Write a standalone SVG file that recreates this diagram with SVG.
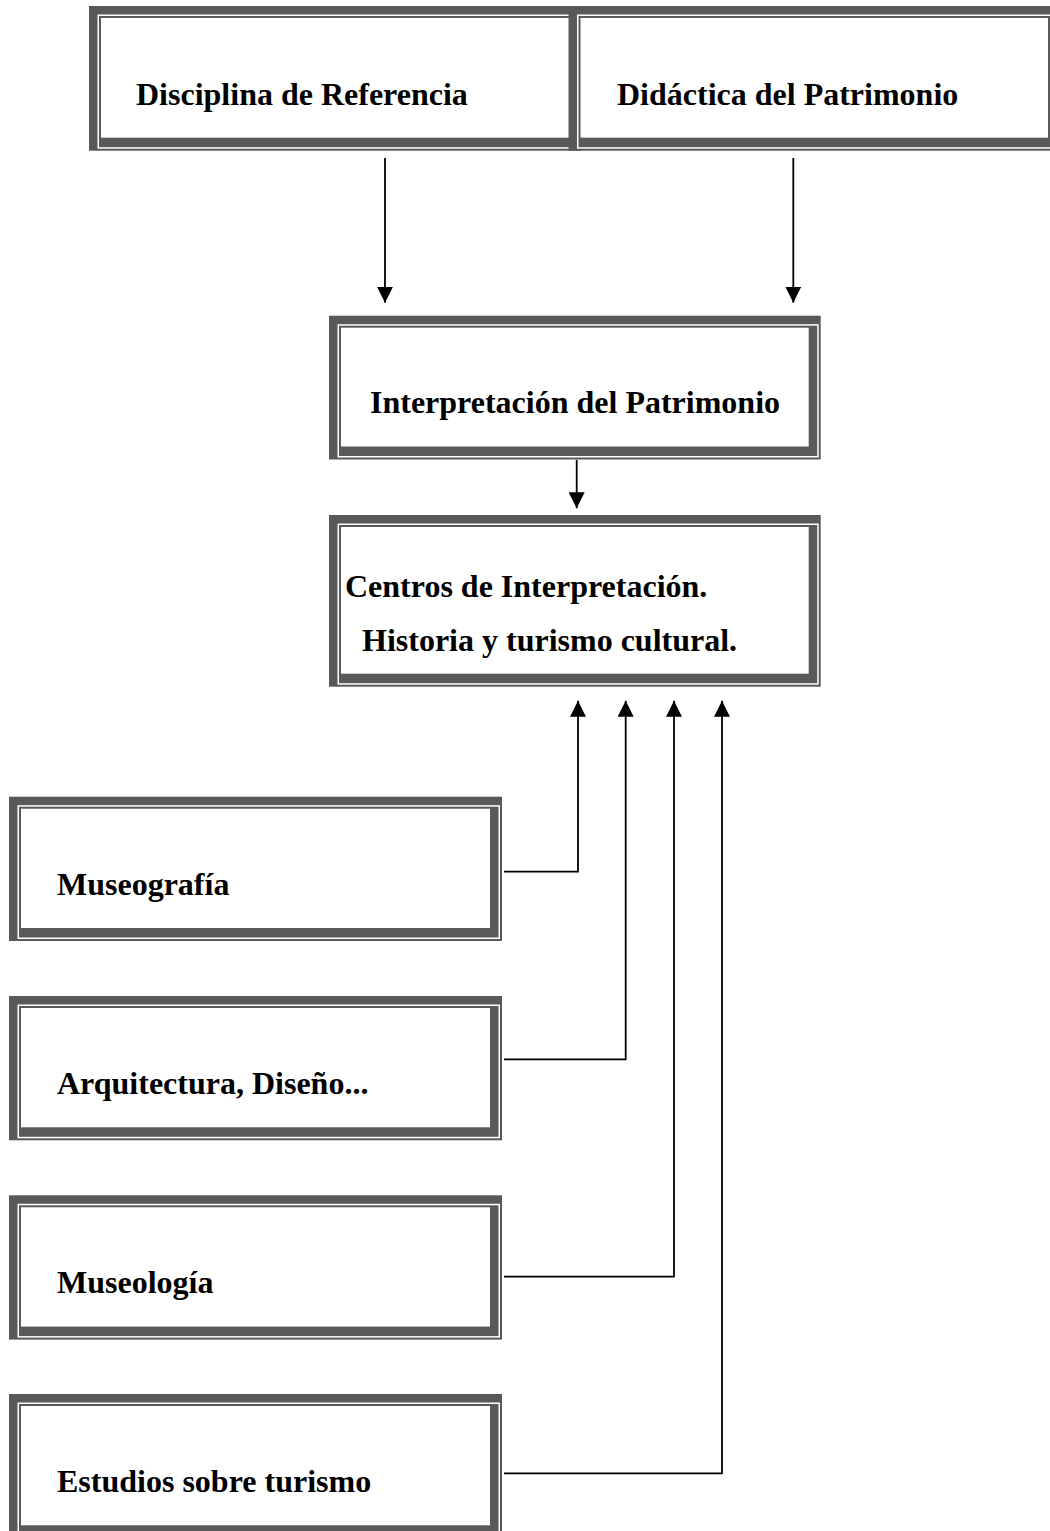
<svg xmlns="http://www.w3.org/2000/svg" width="1050" height="1531" viewBox="0 0 1050 1531">
<style>
.g{fill:#595959}
.w{fill:#ffffff}
.t{font-family:"Liberation Serif","Times New Roman",serif;font-weight:bold;font-size:32px;fill:#000}
.c{fill:none;stroke:#000;stroke-width:1.8}
</style>
<defs>
<marker id="ah" markerUnits="userSpaceOnUse" markerWidth="16" markerHeight="16" viewBox="0 0 16 16" refX="16" refY="8" orient="auto">
<path d="M0,0 L16,8 L0,16 z" fill="#000"/>
</marker>
</defs>
<rect x="0" y="0" width="1050" height="1531" fill="#fff"/>

<g id="n1">
<rect class="g" x="89" y="6" width="492" height="144.7"/>
<rect class="w" x="97.5" y="14.5" width="481.5" height="134.2"/>
<rect class="g" x="99" y="16" width="478.5" height="131.2"/>
<rect class="w" x="101" y="18" width="468" height="119.7"/>
<text class="t" x="136" y="105">Disciplina de Referencia</text>
</g>

<g id="n2">
<rect class="g" x="568.5" y="6" width="491.5" height="144.7"/>
<rect class="w" x="577" y="14.5" width="481" height="134.2"/>
<rect class="g" x="578.5" y="16" width="478" height="131.2"/>
<rect class="w" x="580.5" y="18" width="467.5" height="119.7"/>
<text class="t" x="617" y="105">Didáctica del Patrimonio</text>
</g>

<g id="n3">
<rect class="g" x="329" y="315.7" width="491.7" height="143.8"/>
<rect class="w" x="337.5" y="324.2" width="481.2" height="133.3"/>
<rect class="g" x="339" y="325.7" width="478.2" height="130.3"/>
<rect class="w" x="341" y="327.7" width="467.7" height="118.8"/>
<text class="t" x="370" y="413">Interpretación del Patrimonio</text>
</g>

<g id="n4">
<rect class="g" x="329" y="515" width="491.7" height="171.7"/>
<rect class="w" x="337.5" y="523.5" width="481.2" height="161.2"/>
<rect class="g" x="339" y="525" width="478.2" height="158.2"/>
<rect class="w" x="341" y="527" width="467.7" height="146.7"/>
<text class="t" x="345" y="597">Centros de Interpretación.</text>
<text class="t" x="362" y="651">Historia y turismo cultural.</text>
</g>

<g id="n5">
<rect class="g" x="9" y="796.7" width="493" height="144.3"/>
<rect class="w" x="17.5" y="805.2" width="482.5" height="133.8"/>
<rect class="g" x="19" y="806.7" width="479.5" height="130.8"/>
<rect class="w" x="21" y="808.7" width="469" height="119.3"/>
<text class="t" x="57" y="895">Museografía</text>
</g>

<g id="n6">
<rect class="g" x="9" y="996" width="493" height="144.3"/>
<rect class="w" x="17.5" y="1004.5" width="482.5" height="133.8"/>
<rect class="g" x="19" y="1006" width="479.5" height="130.8"/>
<rect class="w" x="21" y="1008" width="469" height="119.3"/>
<text class="t" x="57" y="1094">Arquitectura, Diseño...</text>
</g>

<g id="n7">
<rect class="g" x="9" y="1195.3" width="493" height="144.3"/>
<rect class="w" x="17.5" y="1203.8" width="482.5" height="133.8"/>
<rect class="g" x="19" y="1205.3" width="479.5" height="130.8"/>
<rect class="w" x="21" y="1207.3" width="469" height="119.3"/>
<text class="t" x="57" y="1293">Museología</text>
</g>

<g id="n8">
<rect class="g" x="9" y="1394" width="493" height="144.3"/>
<rect class="w" x="17.5" y="1402.5" width="482.5" height="133.8"/>
<rect class="g" x="19" y="1404" width="479.5" height="130.8"/>
<rect class="w" x="21" y="1406" width="469" height="119.3"/>
<text class="t" x="57" y="1492">Estudios sobre turismo</text>
</g>

<g id="connectors">
<path class="c" d="M385,158 V302.7" marker-end="url(#ah)"/>
<path class="c" d="M793.3,158 V302.7" marker-end="url(#ah)"/>
<path class="c" d="M576.7,460 V508.3" marker-end="url(#ah)"/>
<path class="c" d="M504,871.7 H578 V700.7" marker-end="url(#ah)"/>
<path class="c" d="M504,1059.3 H625.7 V700.7" marker-end="url(#ah)"/>
<path class="c" d="M504,1276.7 H674 V700.7" marker-end="url(#ah)"/>
<path class="c" d="M504,1473.3 H722 V700.7" marker-end="url(#ah)"/>
</g>
</svg>
